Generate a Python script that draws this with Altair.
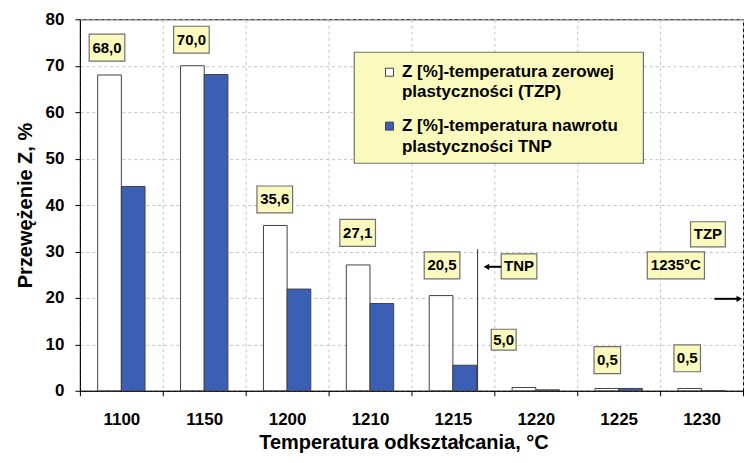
import altair as alt
import pandas as pd

# ---- data ----
temps = ["1100", "1150", "1200", "1210", "1215", "1220", "1225", "1230"]
z_tzp = [68.0, 70.0, 35.6, 27.1, 20.5, 0.7, 0.5, 0.5]
z_tnp = [44.0, 68.1, 21.9, 18.8, 5.5, 0.2, 0.5, 0.0]
series_names = ["TZP", "TNP"]

# annotation boxes (category-index units on x, % units on y)
label_texts = ["68,0", "70,0", "35,6", "27,1", "20,5", "5,0", "0,5", "0,5", "TNP", "1235°C", "TZP"]
label_x = [-0.173, 0.845, 1.851, 2.851, 3.869, 4.613, 5.863, 6.827, 4.798, 6.690, 7.077]
label_y = [73.9, 75.6, 41.2, 34.0, 27.0, 11.0, 6.6, 7.0, 26.8, 27.0, 33.7]
label_w = [0.43, 0.43, 0.43, 0.43, 0.43, 0.30, 0.32, 0.32, 0.43, 0.69, 0.42]
label_h = [5.8, 5.8, 5.8, 5.8, 5.8, 4.5, 5.8, 5.8, 5.4, 5.8, 5.4]

legend_lines = ["Z [%]-temperatura zerowej", "plastyczności (TZP)",
                "Z [%]-temperatura nawrotu", "plastyczności TNP"]
legend_line_y = [68.6, 64.3, 57.0, 52.5]
legend_swatch_y = [68.6, 57.0]
legend_box = [2.81, 6.298, 49.0, 72.9]
legend_text_x = 3.385
legend_swatch_x = 3.235

tnp_line = [4.298, 0.0, 30.5]          # x, y from, y to
tnp_arrow = [4.405, 4.583, 26.7]       # head x, tail x, y
tzp_arrow = [7.455, 7.155, 19.8]       # head x, tail x, y

FONT = "Liberation Sans"
BLUE = "#3B5FB5"
YELLOW = "#FAFABE"

xs = alt.Scale(domain=[-0.5, 7.5], nice=False, zero=False)
ys = alt.Scale(domain=[0, 80], nice=False)

bars_df = pd.DataFrame({
    "temp": temps * 2,
    "series": ["TZP"] * len(temps) + ["TNP"] * len(temps),
    "z": z_tzp + z_tnp,
})

bars = alt.Chart(bars_df).mark_bar(stroke="#404040", strokeWidth=1).encode(
    x=alt.X("temp:N", sort=temps,
            scale=alt.Scale(paddingInner=0, paddingOuter=0),
            axis=alt.Axis(title="Temperatura odkształcania, °C", labelAngle=0,
                          tickBand="extent", grid=True, labelPadding=16,
                          titlePadding=5, titleX=324)),
    xOffset=alt.XOffset("series:N", sort=series_names,
                        scale=alt.Scale(paddingInner=0, paddingOuter=0.75)),
    y=alt.Y("z:Q", scale=ys,
            axis=alt.Axis(values=list(range(0, 81, 10)), title="Przewężenie  Z, %",
                          labelPadding=11, titlePadding=10, grid=True)),
    color=alt.Color("series:N", scale=alt.Scale(domain=series_names, range=["#FFFFFF", BLUE]),
                    legend=None),
)

line_df = pd.DataFrame({"x": [tnp_line[0]], "y": [tnp_line[1]], "y2": [tnp_line[2]]})
vline = alt.Chart(line_df).mark_rule(color="#303030", strokeWidth=1).encode(
    x=alt.X("x:Q", scale=xs, axis=None),
    y=alt.Y("y:Q", scale=ys, axis=None), y2="y2:Q")

arrow_df = pd.DataFrame({
    "head": [tnp_arrow[0], tzp_arrow[0]],
    "tail": [tnp_arrow[1], tzp_arrow[1]],
    "y": [tnp_arrow[2], tzp_arrow[2]],
    "shape": ["triangle-left", "triangle-right"],
})
arrow_lines = alt.Chart(arrow_df).mark_rule(color="black", strokeWidth=2).encode(
    x=alt.X("head:Q", scale=xs, axis=None), x2="tail:Q",
    y=alt.Y("y:Q", scale=ys, axis=None))
arrow_heads = alt.Chart(arrow_df).mark_point(filled=True, color="black", size=40, opacity=1).encode(
    x=alt.X("head:Q", scale=xs, axis=None),
    y=alt.Y("y:Q", scale=ys, axis=None),
    shape=alt.Shape("shape:N", scale=None))

leg_box_df = pd.DataFrame({"x1": [legend_box[0]], "x2": [legend_box[1]],
                           "y1": [legend_box[2]], "y2": [legend_box[3]]})
leg_box = alt.Chart(leg_box_df).mark_rect(fill=YELLOW, stroke="#707070", strokeWidth=1.2).encode(
    x=alt.X("x1:Q", scale=xs, axis=None), x2="x2:Q",
    y=alt.Y("y1:Q", scale=ys, axis=None), y2="y2:Q")

leg_sw_df = pd.DataFrame({"x": [legend_swatch_x] * 2, "y": legend_swatch_y, "series": series_names})
leg_sw = alt.Chart(leg_sw_df).mark_point(shape="square", filled=True, size=64, stroke="#404040",
                                         strokeWidth=1, opacity=1).encode(
    x=alt.X("x:Q", scale=xs, axis=None),
    y=alt.Y("y:Q", scale=ys, axis=None),
    fill=alt.Fill("series:N", scale=alt.Scale(domain=series_names, range=["#FFFFFF", BLUE]),
                  legend=None))

leg_txt_df = pd.DataFrame({"x": [legend_text_x] * 4, "y": legend_line_y, "t": legend_lines})
leg_txt = alt.Chart(leg_txt_df).mark_text(align="left", baseline="middle", font=FONT,
                                          fontSize=17, fontWeight="bold", color="black").encode(
    x=alt.X("x:Q", scale=xs, axis=None),
    y=alt.Y("y:Q", scale=ys, axis=None),
    text="t:N")

ann_df = pd.DataFrame({
    "t": label_texts,
    "xc": label_x,
    "yc": label_y,
    "x1": [x - w / 2 for x, w in zip(label_x, label_w)],
    "x2": [x + w / 2 for x, w in zip(label_x, label_w)],
    "y1": [y - h / 2 for y, h in zip(label_y, label_h)],
    "y2": [y + h / 2 for y, h in zip(label_y, label_h)],
})
ann_box = alt.Chart(ann_df).mark_rect(fill=YELLOW, stroke="#707070", strokeWidth=1.2).encode(
    x=alt.X("x1:Q", scale=xs, axis=None), x2="x2:Q",
    y=alt.Y("y1:Q", scale=ys, axis=None), y2="y2:Q")
ann_txt = alt.Chart(ann_df).mark_text(align="center", baseline="middle", font=FONT,
                                      fontSize=15, fontWeight="bold", color="black").encode(
    x=alt.X("xc:Q", scale=xs, axis=None),
    y=alt.Y("yc:Q", scale=ys, axis=None),
    text="t:N")

chart = alt.layer(
    bars, vline, leg_box, leg_sw, leg_txt, ann_box, ann_txt, arrow_lines, arrow_heads
).resolve_scale(x="independent", y="independent").properties(
    width=664, height=372,
    padding={"left": 7, "top": 2, "right": 0, "bottom": 0},
).configure_view(
    stroke="black", strokeWidth=1
).configure_axis(
    domainColor="black", tickColor="black", tickSize=5,
    gridColor="#C4C4C4", gridDash=[3, 3], gridWidth=1,
    labelFont=FONT, labelFontSize=17, labelFontWeight="bold", labelColor="black",
    titleFont=FONT, titleFontWeight="bold", titleColor="black",
).configure_axisX(
    titleFontSize=20
).configure_axisY(
    titleFontSize=20
)

chart.save("out.html", embed_options={"renderer": "svg", "actions": False})
